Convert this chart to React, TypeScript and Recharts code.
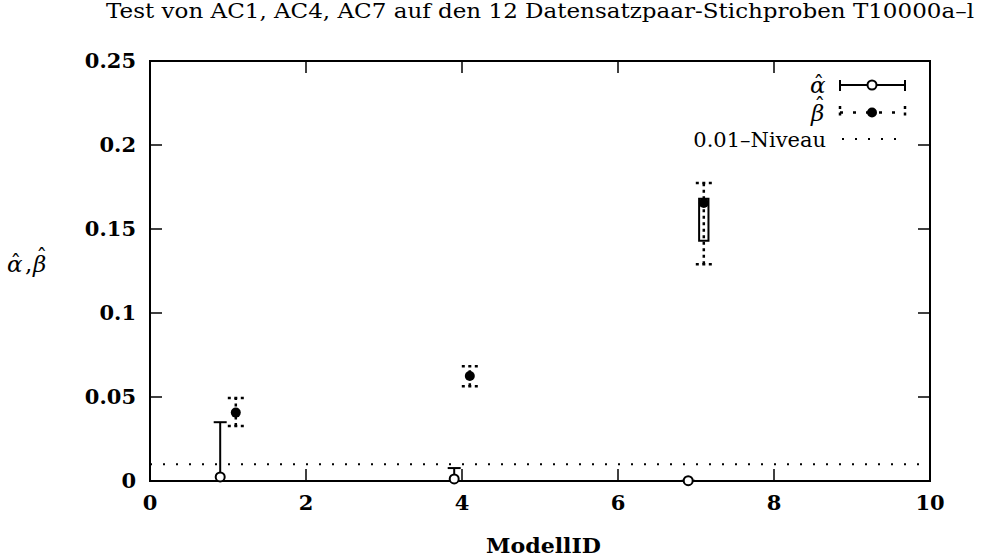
import React from "react";
import { ScatterChart, Scatter, XAxis, YAxis, ErrorBar, ReferenceLine, ReferenceArea } from "recharts";

// alpha-hat: open circles with solid error bars
const alphaX = [0.9, 3.9, 6.9];
const alphaY = [0.0024, 0.0012, 0.0002];
const alphaLow = [0, 0, 0];
const alphaHigh = [0.035, 0.0077, 0.0002];

// beta-hat: filled circles with dotted error bars
const betaX = [1.1, 4.1, 7.1];
const betaY = [0.0407, 0.0625, 0.1655];
const betaLow = [0.0327, 0.0564, 0.129];
const betaHigh = [0.0494, 0.0683, 0.1774];

// small box drawn around the third beta point
const boxX = [7.04, 7.16];
const boxY = [0.143, 0.168];

const niveau = 0.01;
const xTicks = [0, 2, 4, 6, 8, 10];
const yTicks = [0, 0.05, 0.1, 0.15, 0.2, 0.25];
const xDomain = [0, 10];
const yDomain = [0, 0.25];

const alphaData = alphaX.map((x, i) => ({ x, y: alphaY[i], err: [alphaY[i] - alphaLow[i], alphaHigh[i] - alphaY[i]] }));
const betaData = betaX.map((x, i) => ({ x, y: betaY[i], err: [betaY[i] - betaLow[i], betaHigh[i] - betaY[i]] }));
// positions of the mirrored tick marks on the top and right border
const topTickData = xTicks.map((x) => ({ x, y: yDomain[1] }));
const rightTickData = yTicks.map((y) => ({ x: xDomain[1], y }));

const SERIF = "'DejaVu Serif', serif";
const TICK = 12;

const OpenDot = (p: any) => <circle cx={p.cx} cy={p.cy} r={4.5} fill="#fff" stroke="#000" strokeWidth={2} />;
const FullDot = (p: any) => <circle cx={p.cx} cy={p.cy} r={5} fill="#000" />;
const TopMark = (p: any) => <line x1={p.cx} x2={p.cx} y1={p.cy} y2={p.cy + TICK} stroke="#000" strokeWidth={1.5} />;
const RightMark = (p: any) => <line x1={p.cx} x2={p.cx - TICK} y1={p.cy} y2={p.cy} stroke="#000" strokeWidth={1.5} />;

// gnuplot style: ticks point inward
const BottomTick = ({ x, y, payload }: any) => (
  <g>
    <line x1={x} x2={x} y1={y} y2={y - TICK} stroke="#000" strokeWidth={1.5} />
    <text x={x} y={y + 29} textAnchor="middle" fontFamily={SERIF} fontWeight="bold" fontSize={21} fill="#000">
      {payload.value}
    </text>
  </g>
);
const LeftTick = ({ x, y, payload }: any) => (
  <g>
    <line x1={x} x2={x + TICK} y1={y} y2={y} stroke="#000" strokeWidth={1.5} />
    <text x={x - 14} y={y + 7} textAnchor="end" fontFamily={SERIF} fontWeight="bold" fontSize={21} fill="#000">
      {String(payload.value)}
    </text>
  </g>
);

const axisLine = { stroke: "#000", strokeWidth: 2 };

// greek letter with a hat placed above it
const Hat = ({ x, y, size, ch, lift }: any) => (
  <g>
    <text x={x} y={y} fontFamily={SERIF} fontStyle="italic" fontSize={size} fill="#000">{ch}</text>
    <text x={x + size * 0.38} y={y - size * lift} textAnchor="middle" fontFamily={SERIF} fontSize={size * 0.95} fill="#000">ˆ</text>
  </g>
);

export default function App() {
  return (
    <div style={{ position: "absolute", left: 0, top: 0, width: 982, height: 560, background: "#fff" }}>
      <ScatterChart width={982} height={560} margin={{ top: 61, right: 52, bottom: 0, left: 0 }}>
        <XAxis type="number" dataKey="x" domain={xDomain} ticks={xTicks} height={79} tickSize={0} tickMargin={0}
          axisLine={axisLine} tickLine={false} tick={<BottomTick />} />
        <YAxis type="number" dataKey="y" domain={yDomain} ticks={yTicks} width={150} tickSize={0} tickMargin={0}
          axisLine={axisLine} tickLine={false} tick={<LeftTick />} />
        <ReferenceArea x1={xDomain[0]} x2={xDomain[1]} y1={yDomain[0]} y2={yDomain[1]} fill="none" fillOpacity={0}
          stroke="#000" strokeWidth={2} />
        <ReferenceLine y={niveau} stroke="#000" strokeWidth={2} strokeDasharray="2 11" />
        <ReferenceArea x1={boxX[0]} x2={boxX[1]} y1={boxY[0]} y2={boxY[1]} fill="#fff" fillOpacity={1} stroke="#000" strokeWidth={2} />
        <Scatter data={topTickData} shape={<TopMark />} isAnimationActive={false} />
        <Scatter data={rightTickData} shape={<RightMark />} isAnimationActive={false} />
        <Scatter data={alphaData} shape={<OpenDot />} isAnimationActive={false}>
          <ErrorBar dataKey="err" direction="y" width={6.5} stroke="#000" strokeWidth={2} />
        </Scatter>
        <Scatter data={betaData} shape={<FullDot />} isAnimationActive={false}>
          <ErrorBar dataKey="err" direction="y" width={8} stroke="#000" strokeWidth={2.5} strokeDasharray="3 3.5" />
        </Scatter>
      </ScatterChart>
      <svg width={982} height={560} style={{ position: "absolute", left: 0, top: 0, pointerEvents: "none" }}>
        <text x={540} y={18} textAnchor="middle" fontFamily={SERIF} fontSize={20} textLength={868}
          lengthAdjust="spacingAndGlyphs" fill="#000">
          Test von AC1, AC4, AC7 auf den 12 Datensatzpaar-Stichproben T10000a–l
        </text>
        <text x={486} y={553} fontFamily={SERIF} fontWeight="bold" fontSize={20} textLength={115}
          lengthAdjust="spacingAndGlyphs" fill="#000">
          ModellID
        </text>
        <Hat x={7} y={272} size={23} ch="α" lift={0.05} />
        <text x={25} y={272} fontFamily={SERIF} fontSize={23} fill="#000">,</text>
        <Hat x={33} y={272} size={23} ch="β" lift={0.3} />
        {/* legend */}
        <Hat x={810} y={93} size={23} ch="α" lift={0.05} />
        <line x1={840} x2={905} y1={85} y2={85} stroke="#000" strokeWidth={2} />
        <line x1={840} x2={840} y1={80} y2={91} stroke="#000" strokeWidth={2} />
        <line x1={905} x2={905} y1={80} y2={91} stroke="#000" strokeWidth={2} />
        <circle cx={872} cy={85} r={4.5} fill="#fff" stroke="#000" strokeWidth={2} />
        <Hat x={811} y={121} size={23} ch="β" lift={0.3} />
        <line x1={840} x2={905} y1={112.5} y2={112.5} stroke="#000" strokeWidth={2.5} strokeDasharray="3 10" />
        <line x1={840} x2={840} y1={106} y2={119} stroke="#000" strokeWidth={2.5} strokeDasharray="3 3.5" />
        <line x1={905} x2={905} y1={106} y2={119} stroke="#000" strokeWidth={2.5} strokeDasharray="3 3.5" />
        <circle cx={872} cy={112.5} r={5} fill="#000" />
        <text x={826} y={147} textAnchor="end" fontFamily={SERIF} fontSize={21} fill="#000">0.01–Niveau</text>
        <line x1={842} x2={905} y1={139} y2={139} stroke="#000" strokeWidth={2} strokeDasharray="2 11" />
      </svg>
    </div>
  );
}
